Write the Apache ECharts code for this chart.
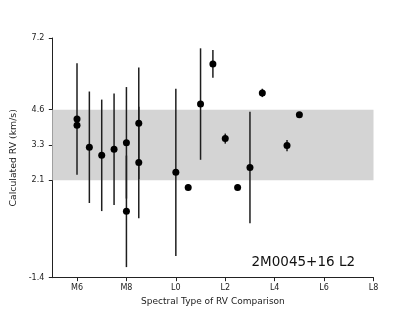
<!DOCTYPE html>
<html>
<head>
<meta charset="utf-8">
<script src="https://cdn.jsdelivr.net/npm/echarts@6/dist/echarts.min.js"></script>
<style>html,body{margin:0;padding:0;background:#fff;}#c{width:415px;height:312px;}</style>
</head>
<body>
<div id="c"></div>
<script>
// Spectral type numeric code: M6=6 ... M9=9, L0=10 ... L8=18
const xVals = [6, 6, 6.5, 7, 7.5, 8, 8, 8.5, 8.5, 10, 10.5, 11, 11.5, 12, 12.5, 13, 13.5, 14.5, 15];
const rvVals = [4.29, 4.07, 3.28, 2.99, 3.21, 3.44, 0.98, 4.14, 2.73, 2.38, 1.84, 4.83, 6.27, 3.59, 1.84, 2.55, 5.23, 3.34, 4.45];
const rvErrs = [2.0, 0, 2.0, 2.0, 2.0, 2.0, 2.0, 2.0, 2.0, 3.0, 0.1, 2.0, 0.5, 0.18, 0.1, 2.0, 0.15, 0.2, 0.08];
const bandLow = 2.1;
const bandHigh = 4.63;
const xTickValues = [6, 8, 10, 12, 14, 16, 18];
const xTickLabels = ['M6', 'M8', 'L0', 'L2', 'L4', 'L6', 'L8'];
const yTickValues = [-1.4, 2.1, 3.35, 4.63, 7.2];
const yTickLabels = ['-1.4', '2.1', '3.3', '4.6', '7.2'];
const xMin = 5, xMax = 18, yMin = -1.4, yMax = 7.2;
const annotation = '2M0045+16 L2';

const pts = xVals.map((x, i) => [x, rvVals[i], rvErrs[i]]);
const font = 'DejaVu Sans';

const chart = echarts.init(document.getElementById('c'), null, {renderer: 'canvas'});
chart.setOption({
  animation: false,
  backgroundColor: '#fff',
  grid: {left: 52.3, right: 41.5, top: 38, bottom: 34.3, containLabel: false},
  xAxis: {
    type: 'value', min: xMin, max: xMax,
    name: 'Spectral Type of RV Comparison', nameLocation: 'middle', nameGap: 16,
    nameTextStyle: {fontFamily: font, fontSize: 9, color: '#222'},
    axisLine: {onZero: false, lineStyle: {color: '#222', width: 1}},
    axisTick: {show: true, length: 3.5, lineStyle: {color: '#222'}, customValues: xTickValues},
    axisLabel: {
      customValues: xTickValues, margin: 6.5, fontFamily: font, fontSize: 8, color: '#222',
      formatter: v => { const i = xTickValues.indexOf(v); return i >= 0 ? xTickLabels[i] : ''; }
    },
    splitLine: {show: false}
  },
  yAxis: {
    type: 'value', min: yMin, max: yMax,
    name: 'Calculated RV (km/s)', nameLocation: 'middle', nameGap: 26, nameRotate: 90,
    nameTextStyle: {fontFamily: font, fontSize: 9.3, color: '#222'},
    axisLine: {show: true, onZero: false, lineStyle: {color: '#222', width: 1}},
    axisTick: {show: true, length: 3.5, lineStyle: {color: '#222'}, customValues: yTickValues},
    axisLabel: {
      customValues: yTickValues, margin: 8, fontFamily: font, fontSize: 8, color: '#222',
      formatter: v => { const i = yTickValues.indexOf(v); return i >= 0 ? yTickLabels[i] : ''; }
    },
    splitLine: {show: false}
  },
  series: [
    {
      type: 'custom', z: 1, silent: true,
      data: [[xMin, xMax, bandLow, bandHigh]],
      renderItem: (params, api) => {
        const p1 = api.coord([api.value(0), api.value(3)]);
        const p2 = api.coord([api.value(1), api.value(2)]);
        return {type: 'rect', shape: {x: p1[0], y: p1[1], width: p2[0] - p1[0], height: p2[1] - p1[1]},
                style: {fill: '#d4d4d4'}};
      }
    },
    {
      type: 'custom', z: 2, silent: true,
      data: pts,
      renderItem: (params, api) => {
        const x = api.value(0), y = api.value(1), e = api.value(2);
        if (!e) return null;
        const a = api.coord([x, y - e]);
        const b = api.coord([x, y + e]);
        return {type: 'line', shape: {x1: a[0], y1: a[1], x2: b[0], y2: b[1]},
                style: {stroke: '#1e1e1e', lineWidth: 1.5}};
      }
    },
    {
      type: 'scatter', z: 3, silent: true,
      data: pts.map(p => [p[0], p[1]]),
      symbol: 'circle', symbolSize: 7,
      itemStyle: {color: '#000', opacity: 1}
    }
  ],
  graphic: [{
    type: 'text', right: 60, top: 255,
    style: {text: annotation, fontFamily: font, fontSize: 13.5, fill: '#111'}
  }]
});
</script>
</body>
</html>
